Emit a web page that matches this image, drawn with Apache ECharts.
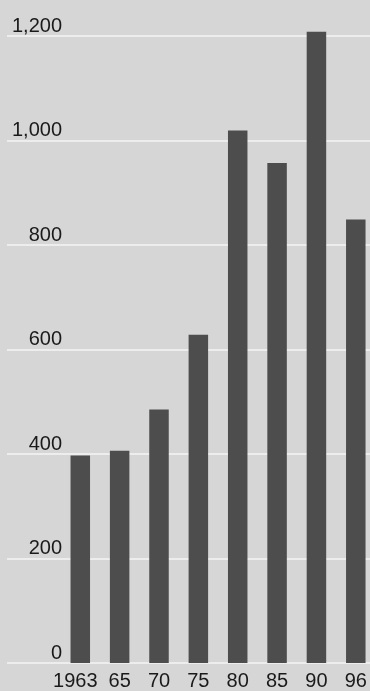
<!DOCTYPE html>
<html>
<head>
<meta charset="utf-8">
<script src="https://cdn.jsdelivr.net/npm/echarts@6/dist/echarts.min.js"></script>
<style>
html,body{margin:0;padding:0;background:#d6d6d6;}
#c{width:370px;height:691px;}
</style>
</head>
<body>
<div id="c"></div>
<script>
var categories = ['1963', '65', '70', '75', '80', '85', '90', '96'];
var values = [397, 406, 485, 628, 1019, 957, 1208, 849];
var yTicks = [0, 200, 400, 600, 800, 1000, 1200];

var chart = echarts.init(document.getElementById('c'), null, {renderer: 'canvas'});
var barData = categories.map(function (c, i) { return [i, values[i]]; });
var font = 'Liberation Sans, Arial, Helvetica, sans-serif';

chart.setOption({
  backgroundColor: '#d6d6d6',
  animation: false,
  grid: {left: 7, right: 0, top: 36, bottom: 26, containLabel: false},
  xAxis: {
    type: 'value',
    min: -1.862,
    max: 7.361,
    axisLine: {show: false},
    axisTick: {show: false},
    splitLine: {show: false},
    axisLabel: {
      customValues: categories.map(function (c, i) { return i; }),
      margin: 8,
      color: '#1a1a1a',
      fontFamily: font,
      fontSize: 20,
      formatter: function (v) {
        var i = Math.round(v);
        if (i === 0) return '{a|' + categories[i] + '}';
        return categories[i];
      },
      rich: {a: {fontFamily: font, fontSize: 20, color: '#1a1a1a', padding: [0, 10, 0, 0]}}
    }
  },
  yAxis: {
    type: 'value',
    min: yTicks[0],
    max: yTicks[yTicks.length - 1],
    interval: 200,
    axisLine: {show: false},
    axisTick: {show: false},
    splitLine: {show: true, lineStyle: {color: '#f4f4f4', width: 1.5}},
    axisLabel: {
      inside: true,
      margin: 55,
      align: 'right',
      verticalAlign: 'bottom',
      color: '#1a1a1a',
      fontFamily: font,
      fontSize: 20,
      formatter: function (v) { return v.toLocaleString('en-US'); }
    }
  },
  series: [{
    type: 'bar',
    data: barData,
    barWidth: 19.5,
    clip: false,
    itemStyle: {color: '#4d4d4d'}
  }]
});
</script>
</body>
</html>
